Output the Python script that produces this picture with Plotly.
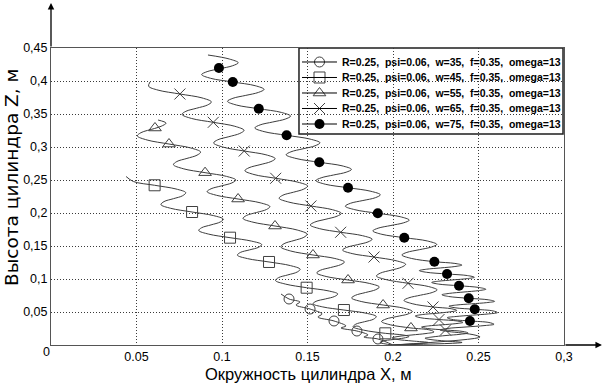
import plotly.graph_objects as go

# ---------------- data (x: circumference X, m ; z: height Z, m) ----------------
labels = [
    "R=0.25,  psi=0.06,  w=35,  f=0.35,  omega=13",
    "R=0.25,  psi=0.06,  w=45,  f=0.35,  omega=13",
    "R=0.25,  psi=0.06,  w=55,  f=0.35,  omega=13",
    "R=0.25,  psi=0.06,  w=65,  f=0.35,  omega=13",
    "R=0.25,  psi=0.06,  w=75,  f=0.35,  omega=13",
]

# w=35 (circles)
line35_x = [0.1345, 0.1392, 0.1456, 0.1433, 0.1515, 0.1585, 0.1561, 0.1655, 0.1725, 0.1696, 0.1789, 0.1854, 0.1830, 0.1912, 0.2000]
line35_z = [0.0773, 0.0697, 0.0652, 0.0606, 0.0545, 0.0470, 0.0424, 0.0364, 0.0288, 0.0258, 0.0212, 0.0152, 0.0121, 0.0091, 0.0000]
mark35_x = [0.1392, 0.1515, 0.1655, 0.1789, 0.1912]
mark35_z = [0.0697, 0.0545, 0.0364, 0.0212, 0.0091]

# w=45 (squares)
line45_x = [0.0439, 0.0482, 0.0606, 0.0731, 0.0788, 0.0770, 0.0716, 0.0661, 0.0643, 0.0700,
            0.0825, 0.0950, 0.1008, 0.0990, 0.0936, 0.0881, 0.0864, 0.0922,
            0.1047, 0.1173, 0.1232, 0.1215, 0.1161, 0.1107, 0.1090, 0.1149,
            0.1275, 0.1400, 0.1457, 0.1440, 0.1385, 0.1330, 0.1313, 0.1371,
            0.1495, 0.1620, 0.1677, 0.1659, 0.1605, 0.1550, 0.1532, 0.1589,
            0.1713, 0.1842, 0.1902, 0.1887, 0.1834, 0.1782, 0.1767, 0.1827,
            0.1955, 0.2058, 0.2094, 0.2064, 0.2000, 0.1942, 0.1924, 0.2000]
line45_z = [0.2553, 0.2477, 0.2420, 0.2364, 0.2308, 0.2262, 0.2217, 0.2173, 0.2127, 0.2071,
            0.2015, 0.1961, 0.1906, 0.1864, 0.1820, 0.1777, 0.1735, 0.1680,
            0.1626, 0.1574, 0.1523, 0.1482, 0.1441, 0.1402, 0.1361, 0.1309,
            0.1258, 0.1203, 0.1148, 0.1106, 0.1062, 0.1020, 0.0977, 0.0923,
            0.0868, 0.0821, 0.0774, 0.0736, 0.0698, 0.0662, 0.0624, 0.0577,
            0.0530, 0.0482, 0.0432, 0.0392, 0.0353, 0.0315, 0.0276, 0.0226,
            0.0177, 0.0152, 0.0129, 0.0106, 0.0083, 0.0061, 0.0038, 0.0000]
mark45_x = [0.0606, 0.0825, 0.1047, 0.1275, 0.1495, 0.1713, 0.1955]
mark45_z = [0.2420, 0.2015, 0.1626, 0.1258, 0.0868, 0.0530, 0.0177]

# w=55 (triangles)
line55_x = [0.0626, 0.0673, 0.0644, 0.0605, 0.0526, 0.0505, 0.0562,
            0.0690, 0.0818, 0.0875, 0.0854, 0.0795, 0.0736, 0.0716, 0.0773,
            0.0901, 0.1026, 0.1081, 0.1058, 0.0997, 0.0936, 0.0913, 0.0968,
            0.1094, 0.1223, 0.1280, 0.1260, 0.1202, 0.1143, 0.1123, 0.1181,
            0.1310, 0.1440, 0.1498, 0.1479, 0.1421, 0.1363, 0.1344, 0.1402,
            0.1532, 0.1660, 0.1716, 0.1694, 0.1635, 0.1575, 0.1554, 0.1609,
            0.1737, 0.1864, 0.1920, 0.1899, 0.1839, 0.1780, 0.1758, 0.1814,
            0.1942, 0.2063, 0.2113, 0.2088, 0.2023, 0.1959, 0.1933, 0.1984,
            0.2105, 0.2216, 0.2240, 0.2193, 0.2111, 0.2029, 0.1994, 0.2029, 0.2111, 0.2205, 0.2000]
line55_z = [0.3409, 0.3362, 0.3314, 0.3280, 0.3217, 0.3168, 0.3106,
            0.3045, 0.2985, 0.2924, 0.2876, 0.2827, 0.2780, 0.2732, 0.2671,
            0.2611, 0.2555, 0.2500, 0.2456, 0.2411, 0.2367, 0.2323, 0.2268,
            0.2212, 0.2155, 0.2098, 0.2053, 0.2008, 0.1962, 0.1917, 0.1861,
            0.1803, 0.1742, 0.1680, 0.1632, 0.1583, 0.1535, 0.1486, 0.1424,
            0.1364, 0.1311, 0.1258, 0.1217, 0.1174, 0.1132, 0.1091, 0.1038,
            0.0985, 0.0932, 0.0879, 0.0838, 0.0795, 0.0753, 0.0712, 0.0659,
            0.0606, 0.0558, 0.0509, 0.0470, 0.0432, 0.0394, 0.0355, 0.0306,
            0.0258, 0.0227, 0.0197, 0.0174, 0.0152, 0.0129, 0.0106, 0.0083, 0.0061, 0.0038, 0.0000]
mark55_x = [0.0608, 0.0690, 0.0901, 0.1094, 0.1310, 0.1532, 0.1737, 0.1942, 0.2105]
mark55_z = [0.3288, 0.3045, 0.2611, 0.2212, 0.1803, 0.1364, 0.0985, 0.0606, 0.0258]

# w=65 (crosses)
line65_x = [0.0579, 0.0571, 0.0626,
            0.0754, 0.0883, 0.0938, 0.0915, 0.0852, 0.0789, 0.0766, 0.0821,
            0.0949, 0.1075, 0.1129, 0.1104, 0.1040, 0.0975, 0.0951, 0.1004,
            0.1130, 0.1257, 0.1311, 0.1286, 0.1222, 0.1158, 0.1134, 0.1187,
            0.1314, 0.1444, 0.1501, 0.1478, 0.1418, 0.1356, 0.1334, 0.1391,
            0.1520, 0.1646, 0.1698, 0.1673, 0.1608, 0.1542, 0.1516, 0.1569,
            0.1694, 0.1822, 0.1878, 0.1854, 0.1792, 0.1729, 0.1705, 0.1761,
            0.1889, 0.2018, 0.2074, 0.2050, 0.1988, 0.1926, 0.1903, 0.1959,
            0.2088, 0.2209, 0.2258, 0.2229, 0.2161, 0.2093, 0.2064, 0.2112,
            0.2234, 0.2340, 0.2373, 0.2332, 0.2251, 0.2171, 0.2130, 0.2163,
            0.2269, 0.2375, 0.2409, 0.2368, 0.2288, 0.2208, 0.2167, 0.2201,
            0.2307, 0.2409, 0.2439, 0.2392, 0.2310, 0.2228, 0.2187, 0.2222, 0.2304, 0.2404, 0.2000]
line65_z = [0.3985, 0.3921, 0.3862,
            0.3803, 0.3744, 0.3683, 0.3636, 0.3588, 0.3541, 0.3494, 0.3433,
            0.3374, 0.3314, 0.3253, 0.3205, 0.3156, 0.3109, 0.3061, 0.3000,
            0.2939, 0.2882, 0.2824, 0.2779, 0.2732, 0.2686, 0.2641, 0.2583,
            0.2526, 0.2467, 0.2409, 0.2362, 0.2315, 0.2270, 0.2223, 0.2165,
            0.2106, 0.2050, 0.1995, 0.1952, 0.1906, 0.1862, 0.1818, 0.1764,
            0.1708, 0.1656, 0.1603, 0.1562, 0.1520, 0.1479, 0.1438, 0.1385,
            0.1333, 0.1277, 0.1223, 0.1179, 0.1133, 0.1089, 0.1045, 0.0991,
            0.0935, 0.0885, 0.0835, 0.0795, 0.0755, 0.0715, 0.0676, 0.0626,
            0.0576, 0.0550, 0.0523, 0.0502, 0.0480, 0.0461, 0.0439, 0.0412,
            0.0386, 0.0364, 0.0342, 0.0324, 0.0306, 0.0289, 0.0271, 0.0250,
            0.0227, 0.0205, 0.0182, 0.0162, 0.0144, 0.0121, 0.0102, 0.0082, 0.0061, 0.0038, 0.0000]
mark65_x = [0.0754, 0.0949, 0.1130, 0.1314, 0.1520, 0.1694, 0.1889, 0.2088, 0.2234, 0.2269, 0.2307]
mark65_z = [0.3803, 0.3374, 0.2939, 0.2526, 0.2106, 0.1708, 0.1333, 0.0935, 0.0576, 0.0386, 0.0227]

# w=75 (filled dots)
line75_x = [0.0918, 0.1043, 0.1095, 0.1063, 0.0988, 0.0913, 0.0881, 0.0933,
            0.1063, 0.1194, 0.1246, 0.1213, 0.1139, 0.1064, 0.1032, 0.1084,
            0.1215, 0.1347, 0.1401, 0.1370, 0.1297, 0.1223, 0.1192, 0.1246,
            0.1378, 0.1515, 0.1573, 0.1544, 0.1474, 0.1403, 0.1375, 0.1433,
            0.1569, 0.1702, 0.1757, 0.1726, 0.1653, 0.1580, 0.1549, 0.1604,
            0.1737, 0.1871, 0.1926, 0.1897, 0.1824, 0.1751, 0.1721, 0.1777,
            0.1911, 0.2042, 0.2095, 0.2063, 0.1988, 0.1913, 0.1882, 0.1935,
            0.2066, 0.2201, 0.2256, 0.2226, 0.2154, 0.2081, 0.2052, 0.2107,
            0.2242, 0.2362, 0.2403, 0.2362, 0.2279, 0.2195, 0.2154, 0.2195,
            0.2316, 0.2436, 0.2476, 0.2435, 0.2351, 0.2267, 0.2226, 0.2266,
            0.2386, 0.2504, 0.2543, 0.2500, 0.2415, 0.2329, 0.2286, 0.2325,
            0.2443, 0.2557, 0.2594, 0.2548, 0.2460, 0.2373, 0.2327, 0.2363,
            0.2478, 0.2584, 0.2611, 0.2559, 0.2464, 0.2369, 0.2317, 0.2344,
            0.2450, 0.2561, 0.2591, 0.2538, 0.2427, 0.2316, 0.2275, 0.2322,
            0.2404, 0.2485, 0.2509, 0.2000]
line75_z = [0.4394, 0.4333, 0.4277, 0.4232, 0.4186, 0.4142, 0.4097, 0.4041,
            0.3985, 0.3929, 0.3873, 0.3827, 0.3782, 0.3738, 0.3692, 0.3636,
            0.3580, 0.3524, 0.3468, 0.3423, 0.3379, 0.3335, 0.3289, 0.3233,
            0.3177, 0.3120, 0.3064, 0.3018, 0.2973, 0.2927, 0.2882, 0.2826,
            0.2768, 0.2715, 0.2661, 0.2618, 0.2576, 0.2533, 0.2491, 0.2436,
            0.2383, 0.2329, 0.2276, 0.2232, 0.2189, 0.2147, 0.2103, 0.2050,
            0.1995, 0.1944, 0.1892, 0.1852, 0.1811, 0.1770, 0.1729, 0.1677,
            0.1626, 0.1576, 0.1524, 0.1485, 0.1444, 0.1403, 0.1364, 0.1312,
            0.1262, 0.1236, 0.1211, 0.1189, 0.1168, 0.1148, 0.1127, 0.1102,
            0.1076, 0.1052, 0.1026, 0.1006, 0.0986, 0.0967, 0.0948, 0.0923,
            0.0898, 0.0871, 0.0845, 0.0824, 0.0803, 0.0782, 0.0761, 0.0735,
            0.0708, 0.0685, 0.0661, 0.0642, 0.0624, 0.0606, 0.0588, 0.0564,
            0.0541, 0.0517, 0.0491, 0.0471, 0.0452, 0.0432, 0.0414, 0.0388,
            0.0364, 0.0341, 0.0314, 0.0295, 0.0273, 0.0250, 0.0227, 0.0205,
            0.0182, 0.0147, 0.0121, 0.0000]
mark75_x = [0.0982, 0.1063, 0.1215, 0.1378, 0.1569, 0.1737, 0.1911, 0.2066, 0.2242, 0.2316, 0.2386, 0.2443, 0.2478, 0.2450]
mark75_z = [0.4197, 0.3985, 0.3580, 0.3177, 0.2768, 0.2383, 0.1995, 0.1626, 0.1262, 0.1076, 0.0898, 0.0708, 0.0541, 0.0364]

x_tickvals = [0.05, 0.1, 0.15, 0.2, 0.25, 0.3]
x_ticktext = ["0.05", "0.1", "0.15", "0.2", "0.25", "0,3"]
y_tickvals = [0.05, 0.1, 0.15, 0.2, 0.25, 0.3, 0.35, 0.4, 0.45]
y_ticktext = ["0,05", "0,1", "0,15", "0,2", "0,25", "0,3", "0,35", "0,4", "0,45"]

# ---------------- styles ----------------
LINE_C = "#3c3c3c"
MARK_C = "#404040"
FONT = "Liberation Sans, Arial, sans-serif"

markers = [
    dict(symbol="circle-open", size=10, color=MARK_C, line=dict(width=1, color=MARK_C)),
    dict(symbol="square-open", size=11, color=MARK_C, line=dict(width=1, color=MARK_C)),
    dict(symbol="triangle-up-open", size=11, color=MARK_C, line=dict(width=1, color=MARK_C)),
    dict(symbol="x-thin-open", size=11, color=MARK_C, line=dict(width=1, color=MARK_C)),
    dict(symbol="circle", size=10, color="#000000", line=dict(width=0, color="#000000")),
]
series = [
    (line35_x, line35_z, mark35_x, mark35_z),
    (line45_x, line45_z, mark45_x, mark45_z),
    (line55_x, line55_z, mark55_x, mark55_z),
    (line65_x, line65_z, mark65_x, mark65_z),
    (line75_x, line75_z, mark75_x, mark75_z),
]

fig = go.Figure()
for i, (lx, lz, mx, mz) in enumerate(series):
    fig.add_trace(go.Scatter(x=lx, y=lz, mode="lines", line=dict(color=LINE_C, width=1, shape="spline", smoothing=1.0),
                             showlegend=False, hoverinfo="skip"))
    fig.add_trace(go.Scatter(x=mx, y=mz, mode="markers", marker=markers[i], showlegend=False, hoverinfo="skip"))

axis_common = dict(showline=True, linecolor="#555555", linewidth=1, mirror=True, automargin=False,
                   showgrid=True, gridcolor="#3a3a3a", gridwidth=1, griddash="1px,2px",
                   zeroline=False, ticks="", tickfont=dict(family=FONT, size=12.5, color="#000000"))

fig.update_layout(
    width=605, height=386,
    margin=dict(l=51, r=41, t=48, b=41),
    paper_bgcolor="white", plot_bgcolor="white",
    xaxis=dict(range=[0, 0.3], tickvals=x_tickvals, ticktext=x_ticktext, **axis_common),
    yaxis=dict(range=[0, 0.45], tickvals=y_tickvals, ticktext=y_ticktext, **axis_common),
    xaxis2=dict(overlaying="x", range=[0, 1], visible=False, fixedrange=True),
    yaxis2=dict(overlaying="y", range=[0, 1], visible=False, fixedrange=True),
    showlegend=False,
)

# ---------------- hand-built legend box (paper / overlay-axis units) ----------------
leg_x0, leg_x1, leg_y0, leg_y1 = 0.4834, 0.9981, 0.7104, 1.0
leg_rows = [0.9529, 0.9007, 0.8485, 0.7963, 0.7441]
leg_sym_x0, leg_sym_x1, leg_sym_xm, leg_text_x = 0.4893, 0.5575, 0.5234, 0.5634

fig.add_shape(type="rect", xref="paper", yref="paper", x0=leg_x0, x1=leg_x1, y0=leg_y0, y1=leg_y1,
              line=dict(color="#1e1e1e", width=1.5), fillcolor="white", layer="between")
for i, ry in enumerate(leg_rows):
    fig.add_shape(type="line", xref="paper", yref="paper", x0=leg_sym_x0, x1=leg_sym_x1, y0=ry, y1=ry,
                  line=dict(color="#000000", width=1), layer="above")
    fig.add_annotation(xref="paper", yref="paper", x=leg_text_x, y=ry, text="<b>" + labels[i] + "</b>",
                       showarrow=False, xanchor="left", yanchor="middle",
                       font=dict(family=FONT, size=10.5, color="#000000"))
    fig.add_trace(go.Scatter(x=[leg_sym_xm], y=[ry], xaxis="x2", yaxis="y2", mode="markers",
                             marker=markers[i], showlegend=False, hoverinfo="skip"))

# axis arrows
fig.add_annotation(xref="paper", yref="paper", x=0, y=1.1515, ax=0, ay=45, axref="pixel", ayref="pixel",
                   text="", showarrow=True, arrowhead=2, arrowsize=1, arrowwidth=1.3, arrowcolor="#000000")
fig.add_annotation(xref="paper", yref="paper", x=1.074, y=0, ax=-38, ay=0, axref="pixel", ayref="pixel",
                   text="", showarrow=True, arrowhead=2, arrowsize=1, arrowwidth=1.3, arrowcolor="#000000")
# origin label
fig.add_annotation(xref="paper", yref="paper", x=-0.0097, y=-0.025, text="0", showarrow=False,
                   xanchor="center", yanchor="middle", font=dict(family=FONT, size=12.5, color="#000000"))
# axis titles
fig.add_annotation(xref="paper", yref="paper", x=0.5010, y=-0.0976, text="Окружность цилиндра X, м", showarrow=False,
                   xanchor="center", yanchor="middle", font=dict(family=FONT, size=16.5, color="#000000"))
fig.add_annotation(xref="paper", yref="paper", x=-0.0770, y=0.5640, text="Высота цилиндра Z, м", showarrow=False,
                   textangle=-90, xanchor="center", yanchor="middle",
                   font=dict(family="DejaVu Sans, Liberation Sans, sans-serif", size=18.5, color="#000000"))

fig.write_html("out.html", config={"displayModeBar": False},
               post_script="document.body.style.margin='0px';")
